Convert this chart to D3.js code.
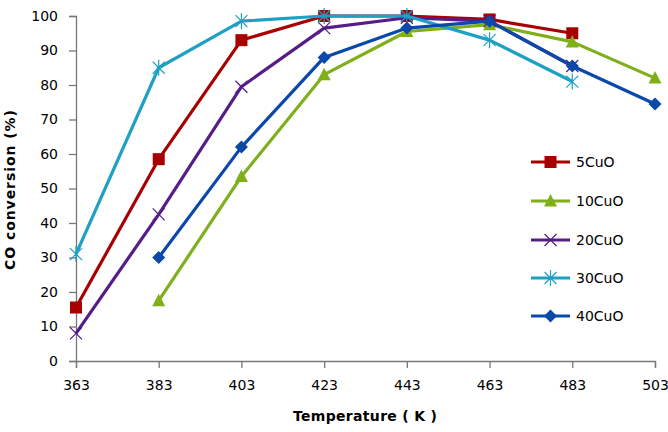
<!DOCTYPE html>
<html><head><meta charset="utf-8">
<script src="https://cdn.jsdelivr.net/npm/d3@7"></script>
<style>body{margin:0;background:#fff}svg{display:block}</style>
</head><body>
<svg id="c" width="668" height="432"></svg>
<script>
const temps = [363, 383, 403, 423, 443, 463, 483, 503];
const yTicks = [0,10,20,30,40,50,60,70,80,90,100];
const seriesNames = ["5CuO","10CuO","20CuO","30CuO","40CuO"];
const s5CuO  = [15.5, 58.5, 93, 100, 100, 99, 95, null];
const s10CuO = [null, 17.5, 53.5, 83, 95.5, 97.5, 92.5, 82];
const s20CuO = [8, 42.5, 79.5, 96.5, 99.5, 98.5, 85.5, null];
const s30CuO = [31, 85, 98.5, 100, 100, 93, 81, null];
const s40CuO = [null, 30, 62, 88, 96.5, 98.5, 85.5, 74.5];
const seriesValues = [s5CuO, s10CuO, s20CuO, s30CuO, s40CuO];
const colors = ["#A80000","#7FAF1A","#561C88","#1EA0C4","#0A48AA"];
const markers = ["square","triangle","x","asterisk","diamond"];

const svg = d3.select("#c");
const x = d3.scaleLinear().domain([363,503]).range([76,655]);
const y = d3.scaleLinear().domain([0,100]).range([361,16]);

const axisColor = "#777";
const font = "DejaVu Sans, sans-serif";

const gx = svg.append("g").attr("transform","translate(0,361)")
  .call(d3.axisBottom(x).tickValues(temps).tickFormat(d3.format("d")).tickSize(7).tickPadding(12));
const gy = svg.append("g").attr("transform","translate(76,0)")
  .call(d3.axisLeft(y).tickValues(yTicks).tickSize(7).tickPadding(11));
[gx,gy].forEach(g=>{
  g.select(".domain").attr("stroke",axisColor).attr("stroke-width",1.3);
  g.selectAll(".tick line").attr("stroke",axisColor).attr("stroke-width",1.3);
  g.selectAll("text").attr("font-family",font).attr("font-size",14).attr("fill","#000");
});

svg.append("text").attr("x",365).attr("y",421).attr("text-anchor","middle")
  .attr("font-family",font).attr("font-weight","bold").attr("font-size",14)
  .attr("textLength",144).attr("lengthAdjust","spacing")
  .text("Temperature ( K )");
svg.append("text").attr("transform","translate(15,190) rotate(-90)").attr("text-anchor","middle")
  .attr("font-family",font).attr("font-weight","bold").attr("font-size",14)
  .attr("textLength",160).attr("lengthAdjust","spacing")
  .text("CO conversion (%)");

function drawMarker(g, type, cx, cy, color){
  if(type==="square"){
    g.append("rect").attr("x",cx-6).attr("y",cy-6).attr("width",12).attr("height",12).attr("fill",color);
  } else if(type==="triangle"){
    g.append("path").attr("d",`M${cx},${cy-7}L${cx+6.5},${cy+5.5}L${cx-6.5},${cy+5.5}Z`).attr("fill",color);
  } else if(type==="diamond"){
    g.append("path").attr("d",`M${cx},${cy-6.5}L${cx+6.5},${cy}L${cx},${cy+6.5}L${cx-6.5},${cy}Z`).attr("fill",color);
  } else if(type==="x"){
    g.append("path").attr("d",`M${cx-6},${cy-6}L${cx+6},${cy+6}M${cx-6},${cy+6}L${cx+6},${cy-6}`)
      .attr("stroke",color).attr("stroke-width",1.2).attr("fill","none");
  } else if(type==="asterisk"){
    g.append("path").attr("d",`M${cx-6},${cy-6}L${cx+6},${cy+6}M${cx-6},${cy+6}L${cx+6},${cy-6}M${cx},${cy-8}L${cx},${cy+8}`)
      .attr("stroke",color).attr("stroke-width",1.2).attr("fill","none");
  }
}

const line = d3.line().defined(d=>d.v!=null).x(d=>x(d.t)).y(d=>y(d.v));
seriesValues.forEach((vals,i)=>{
  const data = temps.map((t,j)=>({t, v: vals[j]}));
  const g = svg.append("g");
  g.append("path").datum(data).attr("d",line).attr("fill","none")
    .attr("stroke",colors[i]).attr("stroke-width",3.2).attr("stroke-linejoin","round");
  data.filter(d=>d.v!=null).forEach(d=>drawMarker(g, markers[i], x(d.t), y(d.v), colors[i]));
});

const lg = svg.append("g");
const legendY = [162, 201, 240, 278, 316];
seriesNames.forEach((n,i)=>{
  const yy = legendY[i];
  lg.append("line").attr("x1",531).attr("x2",570).attr("y1",yy).attr("y2",yy)
    .attr("stroke",colors[i]).attr("stroke-width",3.2);
  drawMarker(lg, markers[i], 550.5, yy, colors[i]);
  lg.append("text").attr("x",576).attr("y",yy+5).attr("font-family",font).attr("font-size",14)
    .attr("fill","#000").text(n);
});
</script>
</body></html>
